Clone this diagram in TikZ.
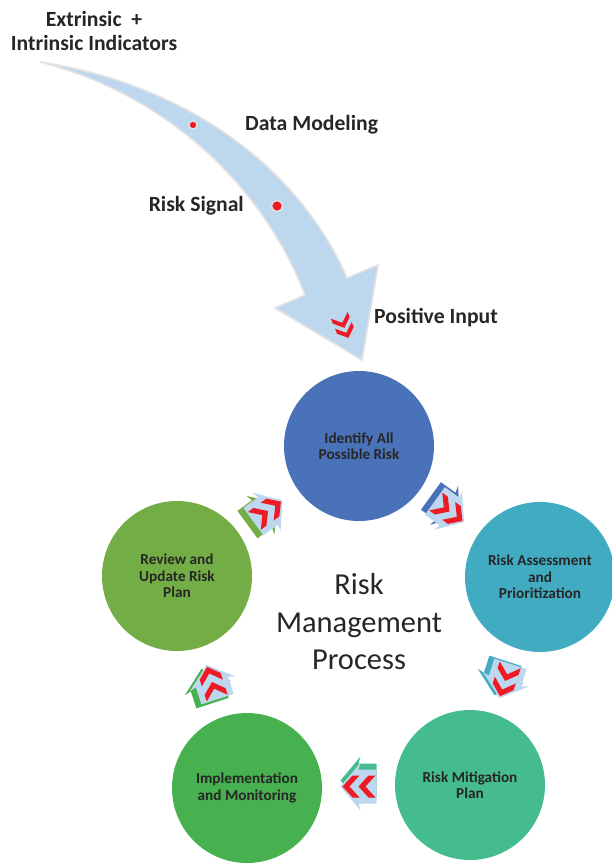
\documentclass[tikz,border=0pt]{standalone}
\usepackage{fontspec}
\setmainfont{Carlito}
\usetikzlibrary{calc}

\definecolor{cIdn}{RGB}{74,114,184}
\definecolor{cAsm}{RGB}{65,171,194}
\definecolor{cMit}{RGB}{69,188,141}
\definecolor{cImp}{RGB}{70,177,78}
\definecolor{cRev}{RGB}{115,173,69}
\definecolor{arrowblue}{RGB}{189,215,238}
\definecolor{arrowedge}{RGB}{226,226,226}
\definecolor{chevred}{RGB}{237,28,36}
\definecolor{textdark}{RGB}{38,38,38}

\begin{document}
\begin{tikzpicture}[x=0.03cm, y=-0.03cm,
    step node/.style={circle, minimum size=150*0.03cm, inner sep=0pt, align=center,
        text=textdark, font=\fontsize{13}{14}\selectfont\bfseries},
    label text/.style={text=textdark, font=\fontsize{18.5}{20.5}\selectfont\bfseries, inner sep=0pt},
    red dot/.style={circle, fill=chevred, draw=arrowedge, line width=1.2pt, inner sep=0pt}]
    \useasboundingbox (0,0) rectangle (611,865);

    % Input arrow from the indicators
    \filldraw[fill=arrowblue, draw=arrowedge, line width=1.4pt, line join=miter]
        (40,62) .. controls (190,85) and (300,170) .. (347,278) -- (378,265) -- (362,360)
        -- (275,308) -- (305,295) .. controls (265,190) and (170,95) .. (40,62) -- cycle;
    \node[red dot, minimum size=8*0.03cm] (dot1) at (193,125) {};
    \node[red dot, minimum size=11*0.03cm] (dot2) at (277,206) {};
    \foreach \s in {-6,6}
        \fill[chevred, shift={(344,327)}, rotate=-68, scale=0.9, shift={(\s,0)}]
            (-8,-10) -- (-2,-10) -- (7,0) -- (-2,10) -- (-8,10) -- (1,0) -- cycle;

    \node[label text, anchor=north, align=center] (ind) at (94,11) {Extrinsic\ \ +\\Intrinsic Indicators};
    \node[label text, anchor=west] (model) at (245,125) {Data Modeling};
    \node[label text, anchor=east] (signal) at (244,206) {Risk Signal};
    \node[label text, anchor=west] (input) at (374,318) {Positive Input};

    % Process steps
    \foreach \n/\x/\y/\col/\txt in {idn/359/446/cIdn/{Identify All\\Possible Risk},
                                    asm/540/577/cAsm/{Risk Assessment\\and\\Prioritization},
                                    mit/470/785/cMit/{Risk Mitigation\\Plan},
                                    imp/247/788/cImp/{Implementation\\and Monitoring},
                                    rev/177/576/cRev/{Review and\\Update Risk\\Plan}} {
        \node[step node, fill=\col] (\n) at (\x,\y) {\txt};
    }

    \node[text=textdark, align=center, font=\fontsize{26}{32}\selectfont] (title) at (359,622) {Risk\\Management\\Process};

    % Flow arrows between the steps
    \foreach \a/\b/\ang/\col/\ox/\oy in {idn/asm/-36/cIdn/-4/-5, asm/mit/-108/cAsm/-5/-3,
                                         mit/imp/180/cMit/0/-6, imp/rev/108/cImp/-5/4,
                                         rev/idn/36/cRev/-6/3} {
        \coordinate (m\a) at ($(\a)!0.5!(\b)$);
        \fill[\col, shift={(m\a)}, shift={(\ox,\oy)}, rotate=\ang]
            (-18,-17) -- (0,-17) -- (-2,-24) -- (18,0) -- (-2,24) -- (0,17) -- (-18,17) -- cycle;
        \fill[arrowblue, shift={(m\a)}, rotate=\ang]
            (-18,-17) -- (0,-17) -- (-2,-24) -- (18,0) -- (-2,24) -- (0,17) -- (-18,17) -- cycle;
        \foreach \s in {-8,8}
            \fill[chevred, shift={(m\a)}, rotate=\ang, shift={(\s,0)}]
                (-9,-11) -- (-2,-11) -- (8,0) -- (-2,11) -- (-9,11) -- (1,0) -- cycle;
    }
\end{tikzpicture}
\end{document}
